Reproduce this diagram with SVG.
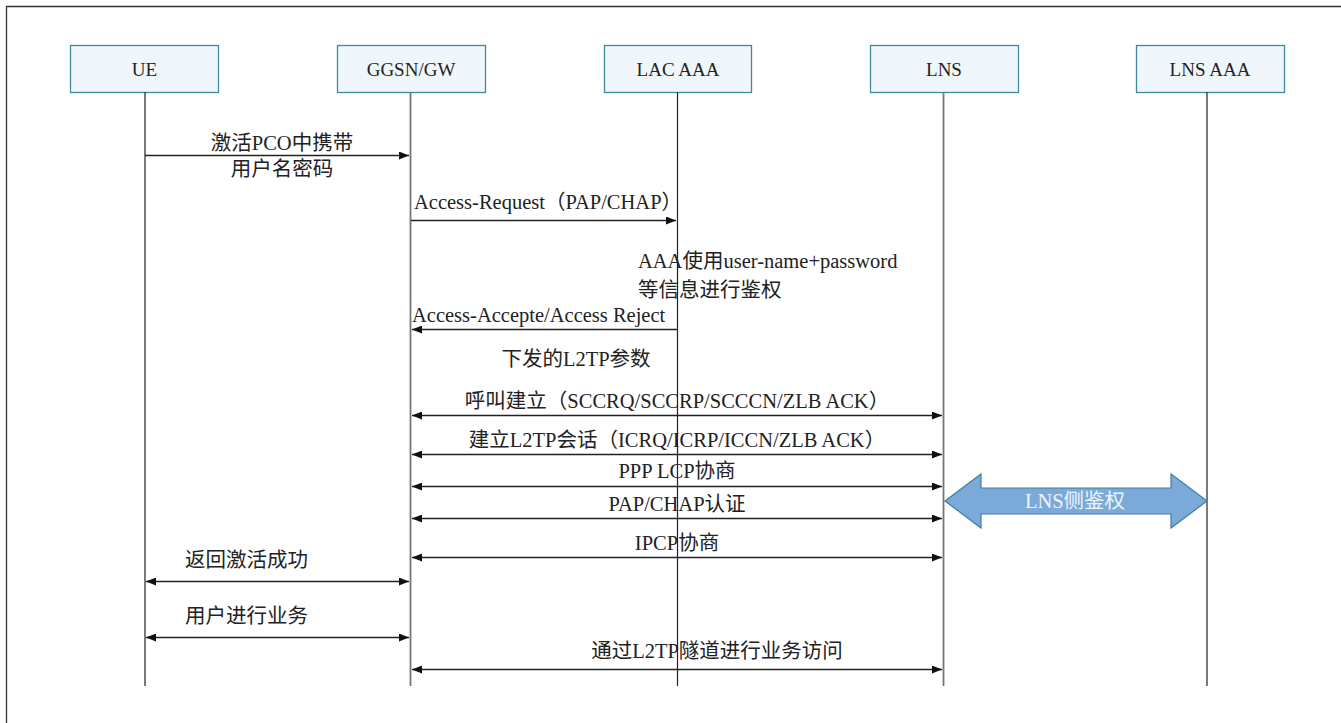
<svg xmlns="http://www.w3.org/2000/svg" width="1341" height="723" viewBox="0 0 1341 723">
  <style>
    .box { fill: #eff7fc; stroke: #3f8aa3; stroke-width: 1.3; }
    .name { font-family: "Liberation Serif", serif; font-size: 19px; fill: #222; text-anchor: middle; }
    .life { stroke: #222; stroke-width: 1.2; fill: none; }
    .life2 { stroke: #777; stroke-width: 1.8; fill: none; }
    .msg { stroke: #222; stroke-width: 1.3; fill: none; }
    .lbl { font-family: "Liberation Serif", "Noto Sans CJK SC", serif; font-size: 20.5px; fill: #222; }
    .en { font-family: "Liberation Serif", serif; }
    .zh { font-family: "Noto Sans CJK SC", sans-serif; font-size: 20.5px; }
    .mid { text-anchor: middle; }
  </style>
  <defs>
    <marker id="head" viewBox="0 0 10 8" refX="10" refY="4" markerWidth="10" markerHeight="8" markerUnits="userSpaceOnUse" orient="auto-start-reverse">
      <path d="M0,0 L10,4 L0,8 Z" fill="#111"/>
    </marker>
  </defs>

  <rect width="1341" height="723" fill="#fff"/>
  <!-- outer frame (open on right and bottom) -->
  <path d="M6.5,723 V6.5 H1341" fill="none" stroke="#333" stroke-width="1.3"/>

  <!-- participants -->
  <g id="ue">
    <rect class="box" x="70.5" y="45.5" width="148" height="47"/>
    <text class="name" x="144.5" y="76">UE</text>
    <line class="life" x1="145" y1="92" x2="145" y2="686"/>
  </g>
  <g id="ggsn">
    <rect class="box" x="337.5" y="45.5" width="148" height="47"/>
    <text class="name" x="411" y="76">GGSN/GW</text>
    <line class="life2" x1="410.5" y1="92" x2="410.5" y2="686"/>
  </g>
  <g id="lac-aaa">
    <rect class="box" x="604.5" y="45.5" width="147" height="47"/>
    <text class="name" x="678" y="76">LAC AAA</text>
    <line class="life" x1="677.5" y1="92" x2="677.5" y2="686"/>
  </g>
  <g id="lns">
    <rect class="box" x="870.5" y="45.5" width="148" height="47"/>
    <text class="name" x="944" y="76">LNS</text>
    <line class="life2" x1="943.5" y1="92" x2="943.5" y2="686"/>
  </g>
  <g id="lns-aaa">
    <rect class="box" x="1136.5" y="45.5" width="148" height="47"/>
    <text class="name" x="1210" y="76">LNS AAA</text>
    <line class="life" x1="1207" y1="92" x2="1207" y2="686"/>
  </g>

  <!-- messages -->
  <g id="connectors">
    <line class="msg" x1="145" y1="155.5" x2="409" y2="155.5" marker-end="url(#head)"/>
    <line class="msg" x1="411" y1="220.5" x2="676" y2="220.5" marker-end="url(#head)"/>
    <line class="msg" x1="677" y1="329.5" x2="412" y2="329.5" marker-end="url(#head)"/>
    <line class="msg" x1="412" y1="415.5" x2="942" y2="415.5" marker-start="url(#head)" marker-end="url(#head)"/>
    <line class="msg" x1="412" y1="454.5" x2="942" y2="454.5" marker-start="url(#head)" marker-end="url(#head)"/>
    <line class="msg" x1="412" y1="486.5" x2="942" y2="486.5" marker-start="url(#head)" marker-end="url(#head)"/>
    <line class="msg" x1="412" y1="518.5" x2="942" y2="518.5" marker-start="url(#head)" marker-end="url(#head)"/>
    <line class="msg" x1="412" y1="557.5" x2="942" y2="557.5" marker-start="url(#head)" marker-end="url(#head)"/>
    <line class="msg" x1="146" y1="581.5" x2="409" y2="581.5" marker-start="url(#head)" marker-end="url(#head)"/>
    <line class="msg" x1="146" y1="637.5" x2="409" y2="637.5" marker-start="url(#head)" marker-end="url(#head)"/>
    <line class="msg" x1="412" y1="669.5" x2="942" y2="669.5" marker-start="url(#head)" marker-end="url(#head)"/>
  </g>

  <!-- message labels -->
  <g id="labels">
    <text class="lbl mid" x="282" y="150"><tspan class="zh">激活</tspan><tspan class="en">PCO</tspan><tspan class="zh">中携带</tspan></text>
    <text class="lbl mid" x="282" y="176"><tspan class="zh">用户名密码</tspan></text>
    <text class="lbl" x="414" y="209"><tspan class="en">Access-Request</tspan><tspan class="zh">（</tspan><tspan class="en">PAP/CHAP</tspan><tspan class="zh">）</tspan></text>
    <text class="lbl" x="638" y="268"><tspan class="en">AAA</tspan><tspan class="zh">使用</tspan><tspan class="en">user-name+password</tspan></text>
    <text class="lbl" x="638" y="297"><tspan class="zh">等信息进行鉴权</tspan></text>
    <text class="lbl" x="412" y="322"><tspan class="en">Access-Accepte/Access Reject</tspan></text>
    <text class="lbl mid" x="576" y="366"><tspan class="zh">下发的</tspan><tspan class="en">L2TP</tspan><tspan class="zh">参数</tspan></text>
    <text class="lbl mid" x="677" y="408"><tspan class="zh">呼叫建立（</tspan><tspan class="en">SCCRQ/SCCRP/SCCCN/ZLB ACK</tspan><tspan class="zh">）</tspan></text>
    <text class="lbl mid" x="677" y="447"><tspan class="zh">建立</tspan><tspan class="en">L2TP</tspan><tspan class="zh">会话（</tspan><tspan class="en">ICRQ/ICRP/ICCN/ZLB ACK</tspan><tspan class="zh">）</tspan></text>
    <text class="lbl mid" x="677" y="478"><tspan class="en">PPP LCP</tspan><tspan class="zh">协商</tspan></text>
    <text class="lbl mid" x="677" y="511"><tspan class="en">PAP/CHAP</tspan><tspan class="zh">认证</tspan></text>
    <text class="lbl mid" x="677" y="550"><tspan class="en">IPCP</tspan><tspan class="zh">协商</tspan></text>
    <text class="lbl" x="185" y="567"><tspan class="zh">返回激活成功</tspan></text>
    <text class="lbl" x="185" y="623"><tspan class="zh">用户进行业务</tspan></text>
    <text class="lbl mid" x="717" y="658"><tspan class="zh">通过</tspan><tspan class="en">L2TP</tspan><tspan class="zh">隧道进行业务访问</tspan></text>
  </g>

  <!-- LNS-side authentication block arrow -->
  <g id="lns-auth">
    <path d="M945,501 L981,474 L981,488 L1171,488 L1171,474 L1207,501 L1171,528 L1171,514 L981,514 L981,528 Z" fill="#7baad8" stroke="#3f7fa0" stroke-width="1.2"/>
    <text class="lbl mid" x="1075" y="508" style="fill:#eef4fb"><tspan class="en">LNS</tspan><tspan class="zh">侧鉴权</tspan></text>
  </g>
</svg>
